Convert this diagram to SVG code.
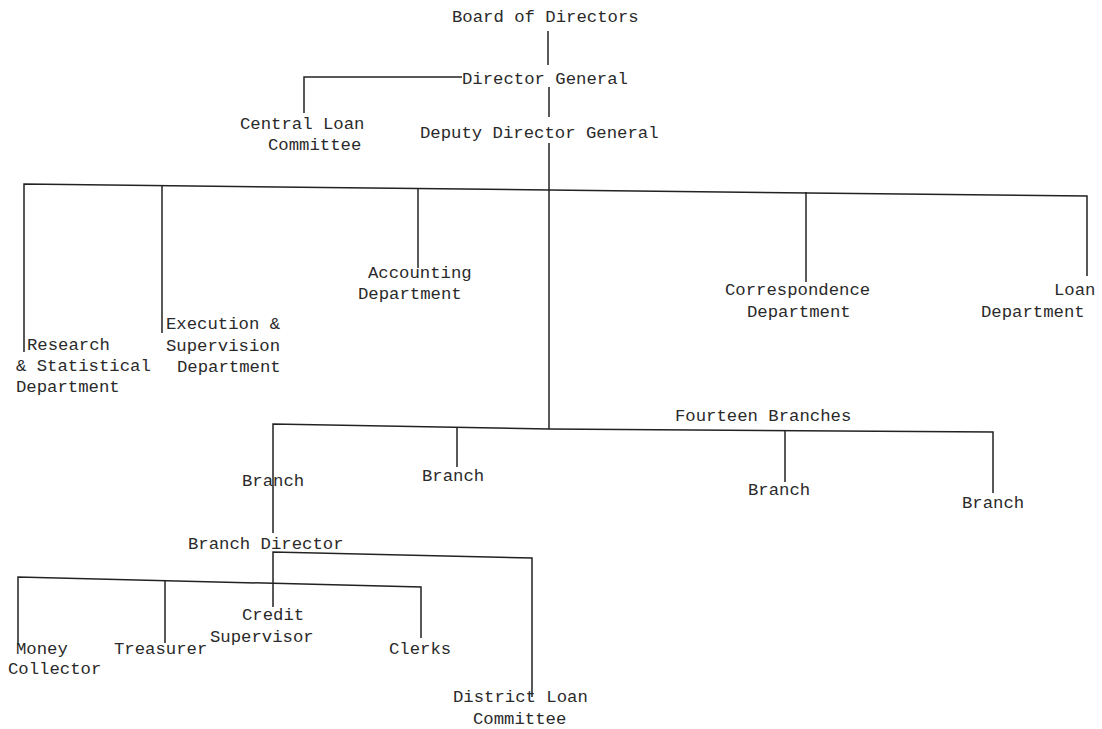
<svg xmlns="http://www.w3.org/2000/svg" width="1102" height="729" viewBox="0 0 1102 729">
<style>
text{font-family:"Liberation Mono","DejaVu Sans Mono",monospace;font-size:17.3px;fill:#2a2a2a}
.c line,.c polyline{stroke:#222;stroke-width:1.5;fill:none}
</style>
<rect width="1102" height="729" fill="#fff"/>
<g class="c" id="connectors">
<line x1="548" y1="31" x2="548" y2="65"/>
<polyline points="462,77 304,77 304,113"/>
<line x1="549" y1="87" x2="549" y2="117"/>
<line x1="549" y1="143" x2="549" y2="429"/>
<polyline points="24,352 24,184 549,190 1087,196 1087,276"/>
<line x1="162" y1="186" x2="162" y2="333"/>
<line x1="418" y1="188" x2="418" y2="268"/>
<line x1="806" y1="192" x2="806" y2="282"/>
<polyline points="273,533 273,424 549,429 993,432 993,493"/>
<line x1="457" y1="428" x2="457" y2="467"/>
<line x1="785" y1="430" x2="785" y2="482"/>
<polyline points="273,607 273,552 532,558 532,697"/>
<polyline points="18,645 18,577 421,587 421,638"/>
<line x1="165" y1="580" x2="165" y2="643"/>
</g>
<g id="board"><text x="452" y="22">Board of Directors</text></g>
<g id="dg"><text x="462" y="84">Director General</text></g>
<g id="clc"><text x="240" y="129">Central Loan</text><text x="268" y="150">Committee</text></g>
<g id="ddg"><text x="420" y="138">Deputy Director General</text></g>
<g id="research"><text x="27" y="350">Research</text><text x="16" y="371">&amp; Statistical</text><text x="16" y="392">Department</text></g>
<g id="execution"><text x="166" y="329">Execution &amp;</text><text x="166" y="351">Supervision</text><text x="177" y="372">Department</text></g>
<g id="accounting"><text x="368" y="278">Accounting</text><text x="358" y="299">Department</text></g>
<g id="correspondence"><text x="725" y="295">Correspondence</text><text x="747" y="317">Department</text></g>
<g id="loan"><text x="1054" y="295">Loan</text><text x="981" y="317">Department</text></g>
<g id="fourteen"><text x="675" y="421">Fourteen Branches</text></g>
<g id="branch1"><text x="242" y="486">Branch</text></g>
<g id="branch2"><text x="422" y="481">Branch</text></g>
<g id="branch3"><text x="748" y="495">Branch</text></g>
<g id="branch4"><text x="962" y="508">Branch</text></g>
<g id="bdirector"><text x="188" y="549">Branch Director</text></g>
<g id="money"><text x="16" y="654">Money</text><text x="8" y="674">Collector</text></g>
<g id="treasurer"><text x="114" y="654">Treasurer</text></g>
<g id="credit"><text x="242" y="620">Credit</text><text x="210" y="642">Supervisor</text></g>
<g id="clerks"><text x="389" y="654">Clerks</text></g>
<g id="district"><text x="453" y="702">District Loan</text><text x="473" y="724">Committee</text></g>
</svg>
